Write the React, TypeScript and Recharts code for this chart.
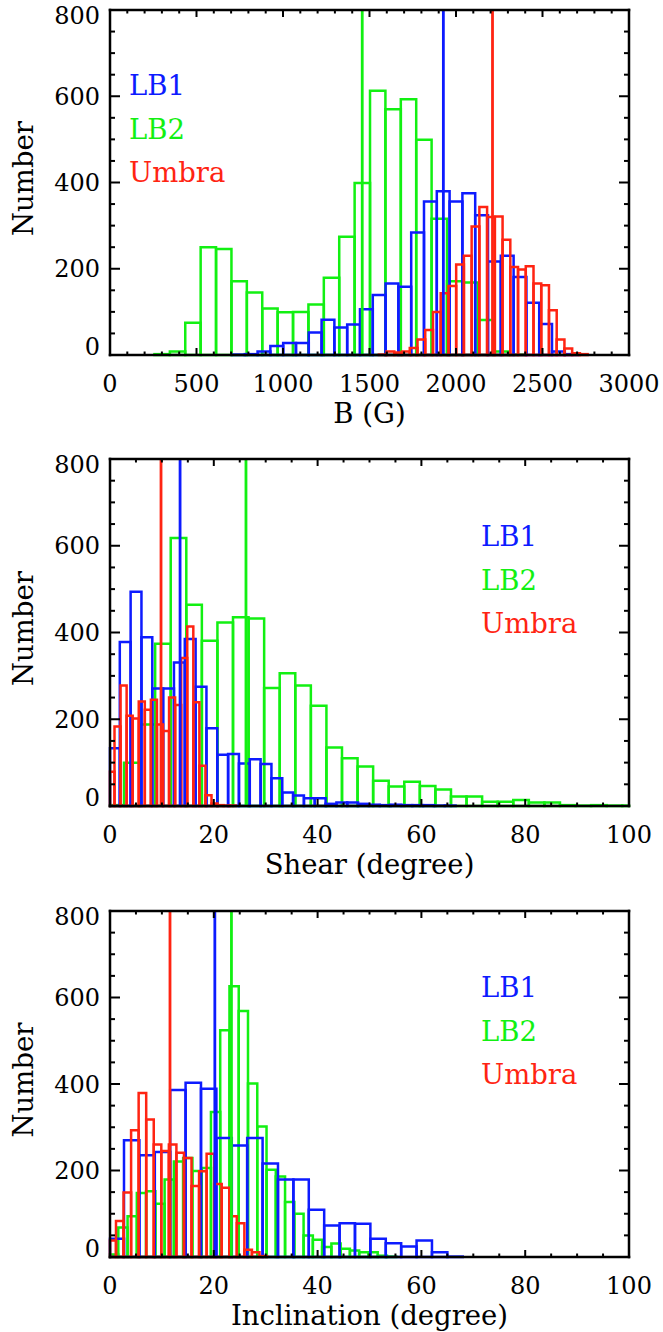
import { ComposedChart, XAxis, YAxis, ReferenceArea, ReferenceLine, Legend } from 'recharts'

// IDL-ish colours
const BLUE = '#0d1bff'
const GREEN = '#12f012'
const RED = '#ff2412'
const SERIF = '"DejaVu Serif", "Liberation Serif", serif'

const W = 663
const PLOT_LEFT = 110
const PLOT_RIGHT = 629

const yTicks = [0, 50, 100, 150, 200, 250, 300, 350, 400, 450, 500, 550, 600, 650, 700, 750, 800]
const yLabels = [0, 200, 400, 600, 800]
const seriesNames = ['LB1', 'LB2', 'Umbra']

// --- panel 1: B (G) ---
const bTicks = Array.from({ length: 31 }, (_, i) => i * 100)
const bLabels = [0, 500, 1000, 1500, 2000, 2500, 3000]
const bLb1Start = 705
const bLb1Width = 74
const bLb1Counts = [1, 2, 8, 21, 28, 28, 52, 82, 64, 71, 106, 139, 166, 158, 284, 356, 380, 356, 375, 324, 217, 230, 181, 121, 72, 8, 2]
const bLb1Mean = 1927
const bLb2Start = 257
const bLb2Width = 89
const bLb2Counts = [2, 8, 75, 250, 246, 171, 145, 108, 99, 100, 117, 179, 274, 399, 613, 570, 593, 499, 316, 171, 168, 81, 8, 1]
const bLb2Mean = 1458
const bUmbraStart = 1554
const bUmbraWidth = 44.7
const bUmbraCounts = [1, 8, 6, 8, 16, 36, 58, 100, 143, 160, 210, 230, 298, 343, 320, 321, 267, 204, 198, 206, 166, 162, 104, 36, 15, 4, 2]
const bUmbraMean = 2211

// --- panel 2: shear ---
const degTicks = Array.from({ length: 21 }, (_, i) => i * 5)
const degLabels = [0, 20, 40, 60, 80, 100]
const sLb1Start = -0.2
const sLb1Width = 2.087
const sLb1Counts = [133, 378, 494, 389, 271, 271, 331, 385, 275, 179, 118, 120, 98, 108, 97, 64, 31, 24, 18, 18, 5, 8, 8, 5, 3, 2, 3, 2, 2, 2, 1, 1]
const sLb1Mean = 13.5
const sLb2Start = -0.3
const sLb2Width = 3.0
const sLb2Counts = [2, 100, 188, 374, 618, 464, 381, 423, 435, 432, 272, 306, 278, 231, 135, 110, 91, 58, 45, 56, 46, 38, 22, 22, 10, 10, 14, 8, 8, 2, 1, 2, 1, 1]
const sLb2Mean = 26.2
const sUmbraStart = -0.3
const sUmbraWidth = 1.168
const sUmbraCounts = [79, 183, 278, 208, 202, 241, 222, 245, 188, 173, 250, 233, 341, 414, 239, 93, 25, 6, 2, 1, 1]
const sUmbraMean = 9.83

// --- panel 3: inclination ---
const iLb1Start = -0.27
const iLb1Width = 2.967
const iLb1Counts = [42, 270, 235, 243, 386, 403, 389, 275, 258, 275, 216, 179, 179, 109, 73, 78, 77, 42, 32, 24, 38, 11, 1]
const iLb1Mean = 20.2
const iLb2Start = -0.185
const iLb2Width = 1.785
const iLb2Counts = [6, 68, 94, 148, 152, 123, 179, 221, 229, 199, 206, 335, 524, 626, 569, 401, 302, 202, 186, 127, 100, 50, 40, 23, 31, 19, 15, 11, 11, 3, 1]
const iLb2Mean = 23.4
const iUmbraStart = -0.3
const iUmbraWidth = 1.455
const iUmbraCounts = [38, 83, 149, 293, 379, 318, 260, 245, 260, 241, 229, 164, 198, 239, 169, 160, 94, 78, 17, 11, 2]
const iUmbraMean = 11.56

type Hist = { color: string; start: number; width: number; counts: number[]; mean: number }

type PanelProps = {
  top: number
  plotTop: number
  plotBottom: number
  xMax: number
  xTicks: number[]
  xLabels: number[]
  xTitle: string
  hists: Hist[]
  legendLeft: number
  legendTop: number
}

const AXIS = { stroke: '#000', strokeWidth: 2.5, strokeLinecap: 'square' as const }

function Panel({ top, plotTop, plotBottom, xMax, xTicks, xLabels, xTitle, hists, legendLeft, legendTop }: PanelProps) {
  const bottomBand = 75
  const height = plotBottom - top + bottomBand
  const midY = (plotTop + plotBottom) / 2 - top

  const bottomTick = (p: any) => {
    const major = xLabels.includes(p.payload.value)
    return (
      <g>
        <line x1={p.x} x2={p.x} y1={p.y} y2={p.y - (major ? 7 : 3.5)} stroke="#000" strokeWidth={2} />
        {major && (
          <text x={p.x} y={p.y + 36.5} textAnchor="middle" fontFamily={SERIF} fontSize={24} fill="#000">
            {p.payload.value}
          </text>
        )}
      </g>
    )
  }
  const topTick = (p: any) => {
    const major = xLabels.includes(p.payload.value)
    return <line x1={p.x} x2={p.x} y1={p.y} y2={p.y + (major ? 7 : 3.5)} stroke="#000" strokeWidth={2} />
  }
  const leftTick = (p: any) => {
    const v = p.payload.value
    const major = yLabels.includes(v)
    // IDL nudges the end labels inside the box
    const ly = v === 800 ? p.y + 5 : v === 0 ? p.y - 9 : p.y
    return (
      <g>
        <line x1={p.x} x2={p.x + (major ? 10 : 5)} y1={p.y} y2={p.y} stroke="#000" strokeWidth={2} />
        {major && (
          <text x={p.x - 10} y={ly + 8.7} textAnchor="end" fontFamily={SERIF} fontSize={24} fill="#000">
            {v}
          </text>
        )}
      </g>
    )
  }
  const rightTick = (p: any) => {
    const major = yLabels.includes(p.payload.value)
    return <line x1={p.x} x2={p.x - (major ? 10 : 5)} y1={p.y} y2={p.y} stroke="#000" strokeWidth={2} />
  }

  const legendColors = [BLUE, GREEN, RED]

  return (
    <div style={{ position: 'absolute', left: 0, top }}>
      <ComposedChart width={W} height={height} margin={{ top: 0, right: 0, bottom: 0, left: 0 }}>
        <XAxis
          type="number"
          dataKey="x"
          domain={[0, xMax]}
          allowDataOverflow
          ticks={xTicks}
          interval={0}
          tickSize={0}
          tickMargin={0}
          tickLine={false}
          axisLine={AXIS}
          tick={bottomTick}
          height={bottomBand}
          label={{
            content: () => (
              <text x={(PLOT_LEFT + PLOT_RIGHT) / 2} y={plotBottom - top + 68} textAnchor="middle" fontFamily={SERIF} fontSize={27.5} fill="#000">
                {xTitle}
              </text>
            ),
          }}
        />
        <XAxis
          xAxisId="top"
          orientation="top"
          type="number"
          dataKey="x"
          domain={[0, xMax]}
          allowDataOverflow
          ticks={xTicks}
          interval={0}
          tickSize={0}
          tickMargin={0}
          tickLine={false}
          axisLine={AXIS}
          tick={topTick}
          height={plotTop - top}
        />
        <YAxis
          type="number"
          domain={[0, 800]}
          allowDataOverflow
          ticks={yTicks}
          interval={0}
          tickSize={0}
          tickMargin={0}
          tickLine={false}
          axisLine={AXIS}
          tick={leftTick}
          width={PLOT_LEFT}
          label={{
            content: () => (
              <text
                x={33}
                y={midY - 4}
                transform={`rotate(-90 33 ${midY - 4})`}
                textAnchor="middle"
                fontFamily={SERIF}
                fontSize={27.5}
                fill="#000"
              >
                Number
              </text>
            ),
          }}
        />
        <YAxis
          yAxisId="right"
          orientation="right"
          type="number"
          domain={[0, 800]}
          allowDataOverflow
          ticks={yTicks}
          interval={0}
          tickSize={0}
          tickMargin={0}
          tickLine={false}
          axisLine={AXIS}
          tick={rightTick}
          width={W - PLOT_RIGHT}
        />
        {hists.map((h, hi) =>
          h.counts.map((c, i) => (
            <ReferenceArea
              key={`${hi}-${i}`}
              x1={Math.max(0, h.start + i * h.width)}
              x2={Math.min(xMax, h.start + (i + 1) * h.width)}
              y1={0}
              y2={c}
              ifOverflow="visible"
              fill="none"
              fillOpacity={0}
              stroke={h.color}
              strokeWidth={2.5}
            />
          )),
        )}
        {hists.map((h, hi) => (
          <ReferenceLine key={`m${hi}`} x={h.mean} stroke={h.color} strokeWidth={2.8} ifOverflow="visible" />
        ))}
        <Legend
          layout="vertical"
          align="center"
          verticalAlign="middle"
          wrapperStyle={{ position: 'absolute', left: legendLeft, top: legendTop - top, width: 'auto', height: 'auto' }}
          content={() => (
            <div style={{ fontFamily: SERIF, fontSize: 27.5, lineHeight: '43.5px' }}>
              {seriesNames.map((n, i) => (
                <div key={n} style={{ color: legendColors[i] }}>
                  {n}
                </div>
              ))}
            </div>
          )}
        />
      </ComposedChart>
    </div>
  )
}

export default function App() {
  const bHists: Hist[] = [
    { color: GREEN, start: bLb2Start, width: bLb2Width, counts: bLb2Counts, mean: bLb2Mean },
    { color: BLUE, start: bLb1Start, width: bLb1Width, counts: bLb1Counts, mean: bLb1Mean },
    { color: RED, start: bUmbraStart, width: bUmbraWidth, counts: bUmbraCounts, mean: bUmbraMean },
  ]
  const sHists: Hist[] = [
    { color: GREEN, start: sLb2Start, width: sLb2Width, counts: sLb2Counts, mean: sLb2Mean },
    { color: BLUE, start: sLb1Start, width: sLb1Width, counts: sLb1Counts, mean: sLb1Mean },
    { color: RED, start: sUmbraStart, width: sUmbraWidth, counts: sUmbraCounts, mean: sUmbraMean },
  ]
  const iHists: Hist[] = [
    { color: GREEN, start: iLb2Start, width: iLb2Width, counts: iLb2Counts, mean: iLb2Mean },
    { color: BLUE, start: iLb1Start, width: iLb1Width, counts: iLb1Counts, mean: iLb1Mean },
    { color: RED, start: iUmbraStart, width: iUmbraWidth, counts: iUmbraCounts, mean: iUmbraMean },
  ]
  return (
    <div style={{ position: 'absolute', left: 0, top: 0, width: W, height: 1332, background: '#fff' }}>
      <Panel top={0} plotTop={10} plotBottom={355} xMax={3000} xTicks={bTicks} xLabels={bLabels} xTitle="B (G)" hists={bHists} legendLeft={129} legendTop={64} />
      <Panel top={450} plotTop={459} plotBottom={806} xMax={100} xTicks={degTicks} xLabels={degLabels} xTitle="Shear (degree)" hists={sHists} legendLeft={481} legendTop={515} />
      <Panel top={900} plotTop={911} plotBottom={1257} xMax={100} xTicks={degTicks} xLabels={degLabels} xTitle="Inclination (degree)" hists={iHists} legendLeft={481} legendTop={966} />
    </div>
  )
}
